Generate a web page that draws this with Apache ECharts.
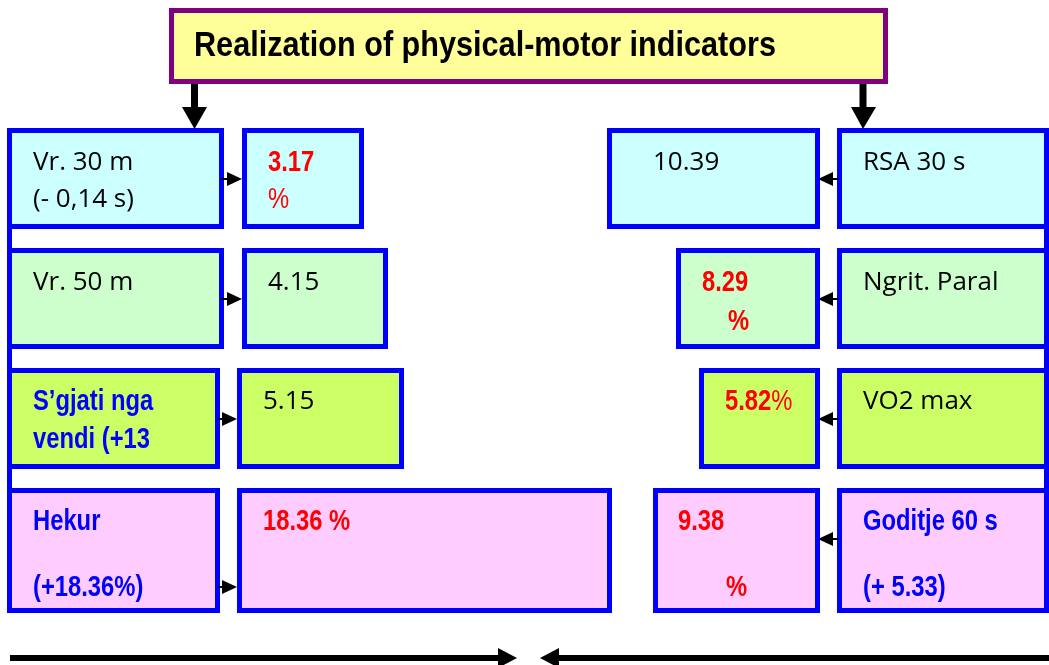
<!DOCTYPE html>
<html><head><meta charset="utf-8">
<script src="https://cdn.jsdelivr.net/npm/echarts@6/dist/echarts.min.js"></script>
<style>html,body{margin:0;padding:0;background:#fff}#c{width:1049px;height:665px}</style></head>
<body><div id="c"></div><script>
// ---- data ----
const titleText = 'Realization of physical-motor indicators';
const leftNames = [['Vr. 30 m', '(- 0,14 s)'], ['Vr. 50 m'], ['S’gjati nga', 'vendi (+13'], ['Hekur', '(+18.36%)']];
const leftGains = ['3.17', '4.15', '5.15', '18.36'];
const rightNames = [['RSA 30 s'], ['Ngrit. Paral'], ['VO2 max'], ['Goditje 60 s', '(+ 5.33)']];
const rightGains = ['10.39', '8.29', '5.82', '9.38'];

// ---- layout (pixel-space axes) ----
const W = 1049, H = 665, LW = 5;
const rowTop = [128, 248, 368, 488], rowBot = [229, 349, 469, 613];
const colLeftName = [[7, 224], [7, 224], [7, 220], [7, 220]];
const colLeftVal = [[242, 364], [242, 388], [237, 404], [237, 612]];
const colRightVal = [[607, 820], [676, 820], [699, 820], [653, 820]];
const colRightName = [[837, 1049], [837, 1049], [837, 1049], [837, 1049]];
const fills = ['#CCFFFF', '#CCFFCC', '#CCFF66', '#FFCCFF'];
const lineDy = [[35, 72], [35, 74], [34, 72], [34, 100]];

const NARROW = '"Liberation Sans", Arial, sans-serif';
const SANS = '"Open Sans", "Noto Sans", sans-serif';
const NS = 0.82; // horizontal squeeze to mimic a narrow face
const ST = {
  n: {fill: '#000', fontFamily: SANS, fontSize: 26, fontWeight: 'normal'},
  bb: {fill: '#0000FF', fontFamily: NARROW, fontSize: 29, fontWeight: 'bold'},
  rb: {fill: '#FF0000', fontFamily: NARROW, fontSize: 29, fontWeight: 'bold'},
  r: {fill: '#FF0000', fontFamily: NARROW, fontSize: 29, fontWeight: 'normal'}
};

// build boxes: [x0,y0,x1,y1,fill, lines]; line: {dx, dy, text, st, rich}
const boxes = [];
for (let i = 0; i < 4; i++) {
  const lst = i >= 2 ? 'bb' : 'n';
  const ln = leftNames[i].map((t, k) => ({dx: 26, dy: lineDy[i][k], text: t, st: lst}));
  boxes.push([colLeftName[i][0], rowTop[i], colLeftName[i][1], rowBot[i], fills[i], ln]);
  let lv;
  if (i === 0) lv = [{dx: 26, dy: 35, text: leftGains[i], st: 'rb'}, {dx: 26, dy: 72, text: '%', st: 'r'}];
  else if (i === 3) lv = [{dx: 26, dy: 34, text: leftGains[i] + ' %', st: 'rb'}];
  else lv = [{dx: 26, dy: lineDy[i][0], text: leftGains[i], st: 'n'}];
  boxes.push([colLeftVal[i][0], rowTop[i], colLeftVal[i][1], rowBot[i], fills[i], lv]);
  let rv;
  if (i === 0) rv = [{dx: 46, dy: 35, text: rightGains[i], st: 'n'}];
  else if (i === 1) rv = [{dx: 26, dy: 35, text: rightGains[i], st: 'rb'}, {dx: 52, dy: 74, text: '%', st: 'rb'}];
  else if (i === 2) rv = [{dx: 26, dy: 34, rich: '{b|' + rightGains[i] + '}{r|%}'}];
  else rv = [{dx: 25, dy: 34, text: rightGains[i], st: 'rb'}, {dx: 73, dy: 100, text: '%', st: 'rb'}];
  boxes.push([colRightVal[i][0], rowTop[i], colRightVal[i][1], rowBot[i], fills[i], rv]);
  const rst = i === 3 ? 'bb' : 'n';
  const rn = rightNames[i].map((t, k) => ({dx: 26, dy: lineDy[i][k], text: t, st: rst}));
  boxes.push([colRightName[i][0], rowTop[i], colRightName[i][1], rowBot[i], fills[i], rn]);
}

function renderBox(params, api) {
  const b = boxes[api.value(0)];
  const p0 = api.coord([b[0], b[1]]), p1 = api.coord([b[2], b[3]]);
  const children = [{
    type: 'rect',
    shape: {x: p0[0] + LW / 2, y: p0[1] + LW / 2, width: p1[0] - p0[0] - LW, height: p1[1] - p0[1] - LW},
    style: {fill: b[4], stroke: '#0000FF', lineWidth: LW}
  }];
  b[5].forEach(l => {
    const narrow = !!l.rich || l.st !== 'n';
    const style = l.rich
      ? {text: l.rich, rich: {b: ST.rb, r: ST.r}, verticalAlign: 'middle', align: 'left'}
      : Object.assign({text: l.text, verticalAlign: 'middle', align: 'left'}, ST[l.st]);
    children.push({type: 'text', x: p0[0] + l.dx, y: p0[1] + l.dy, scaleX: narrow ? NS : 1, style});
  });
  return {type: 'group', children};
}

// connectors (decoration)
const K = '#000';
const g = [];
function poly(pts) { g.push({type: 'polygon', shape: {points: pts}, style: {fill: K}, z: 10}); }
function bar(x, y, w, h, c) { g.push({type: 'rect', shape: {x, y, width: w, height: h}, style: {fill: c || K}, z: 10}); }
g.push({type: 'rect', shape: {x: 169 + 2.5, y: 8 + 2.5, width: 888 - 169 - 5, height: 84 - 8 - 5},
  style: {fill: '#FFFF99', stroke: '#800080', lineWidth: 5}, z: 5});
g.push({type: 'text', x: 194, y: 46, scaleX: 0.875, style: {text: titleText, fill: '#000', fontFamily: NARROW, fontSize: 35, fontWeight: 'bold', verticalAlign: 'middle'}, z: 6});
bar(191, 84, 7, 24); poly([[182, 107], [207, 107], [194.5, 129]]);
bar(859.5, 84, 7, 24); poly([[851, 107], [876, 107], [863, 129]]);
bar(7, 226, 5, 265, '#0000FF');
bar(1044, 226, 5, 265, '#0000FF');
[[179, 221, 242], [299, 221, 242], [419, 218, 237], [587, 218, 237]].forEach(([y, a, b]) => {
  bar(a, y - 1, 8, 2); poly([[b - 15, y - 7], [b, y], [b - 15, y + 7]]);
});
[179, 299, 419, 539].forEach(y => {
  bar(831, y - 1, 8, 2); poly([[833, y - 7], [818, y], [833, y + 7]]);
});
bar(10, 655, 492, 6); poly([[498, 648], [517, 658], [498, 668]]);
bar(557, 655, 492, 6); poly([[559, 648], [540, 658], [559, 668]]);

const chart = echarts.init(document.getElementById('c'), null, {renderer: 'canvas'});
chart.setOption({
  animation: false,
  grid: {left: 0, right: 0, top: 0, bottom: 0},
  xAxis: {type: 'value', min: 0, max: W, show: false},
  yAxis: {type: 'value', min: 0, max: H, inverse: true, show: false},
  series: [{type: 'custom', renderItem: renderBox, clip: false, data: boxes.map((b, i) => [i])}],
  graphic: g
});
</script></body></html>
